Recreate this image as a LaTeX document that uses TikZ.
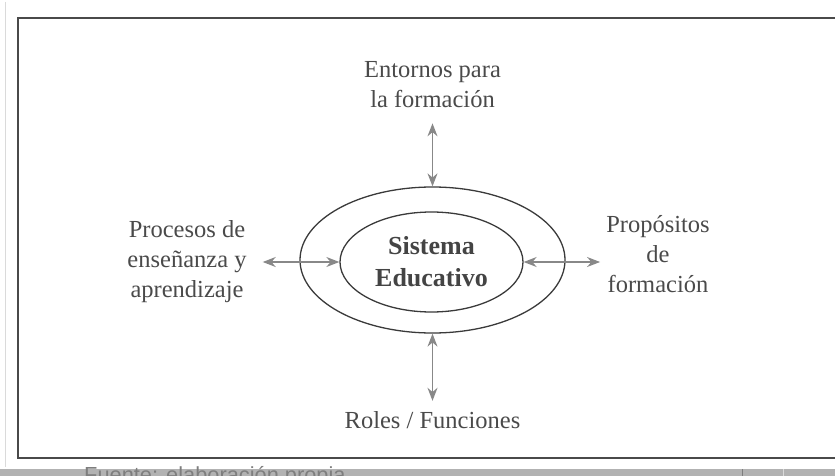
\documentclass[tikz,border=0pt]{standalone}
\usepackage{fontspec}
\setmainfont{Liberation Serif}
\newfontfamily\fuentefont{Liberation Sans}
\usetikzlibrary{arrows.meta,shapes.geometric}
\definecolor{txtgray}{HTML}{4A4A4A}
\definecolor{boldgray}{HTML}{444444}
\definecolor{ellgray}{HTML}{3A3A3A}
\definecolor{arrgray}{HTML}{888888}
\definecolor{framegray}{HTML}{4A4A4A}
\definecolor{bargray}{HTML}{B2B2B2}
\definecolor{fgray}{HTML}{7E7E7E}
\definecolor{faintgray}{HTML}{DADADA}
\begin{document}
\begin{tikzpicture}[x=1pt,y=-1pt,
  lbl/.style={font=\fontsize{24.5}{30}\selectfont, text=txtgray, align=center, inner sep=0pt},
  ring/.style={ellipse, draw=ellgray, line width=1.3pt, inner sep=0pt},
  conn/.style={draw=arrgray, line width=1.3pt,
    arrows={Stealth[length=13pt,width=10pt]-Stealth[length=13pt,width=10pt]}},
  framebox/.style={draw=framegray, line width=1.8pt},
  faintline/.style={draw=faintgray, line width=0.8pt}]
\useasboundingbox (0,0) rectangle (835,476);
\begin{scope}
\clip (0,0) rectangle (835,476);
% faint left line and frame
\draw[faintline] (5,2) -- (5,467);
\draw[framebox] (18,18) rectangle (850,458);
% bottom bar with cut caption
\fill[bargray] (0,469) rectangle (835,476);
\draw[draw=fgray, line width=0.8pt] (742,469) -- (742,476);
\draw[draw=faintgray, line width=0.8pt] (783,469) -- (783,476);
\node[font=\fuentefont\fontsize{21.8}{26}\selectfont, text=fgray, anchor=base west, inner sep=0pt] (fuente) at (84,482) {Fuente: elaboración propia};
\end{scope}
% ellipses
\node[ring, minimum width=265pt, minimum height=146pt] (outer) at (432.5,260) {};
\node[ring, minimum width=183pt, minimum height=100pt, font=\bfseries\fontsize{26}{32}\selectfont, text=boldgray, align=center] (inner) at (431.5,262) {Sistema\\Educativo};
% labels
\node[lbl] (top) at (432.5,85) {Entornos para\\la formación};
\node[lbl] (left) at (187,262) {Procesos de\\enseñanza y\\aprendizaje};
\node[lbl] (right) at (658,254) {Propósitos\\de\\formación};
\node[lbl, anchor=base] (bottom) at (432.5,428) {Roles / Funciones};
% connectors
\draw[conn, shorten <=15pt] (top.south) -- (outer.north);
\draw[conn, shorten <=16pt] (left.east |- inner.west) -- (inner.west);
\draw[conn, shorten >=6pt] (inner.east) -- (right.west |- inner.east);
\draw[conn, shorten >=10pt] (outer.south) -- (bottom.north);
\end{tikzpicture}
\end{document}
